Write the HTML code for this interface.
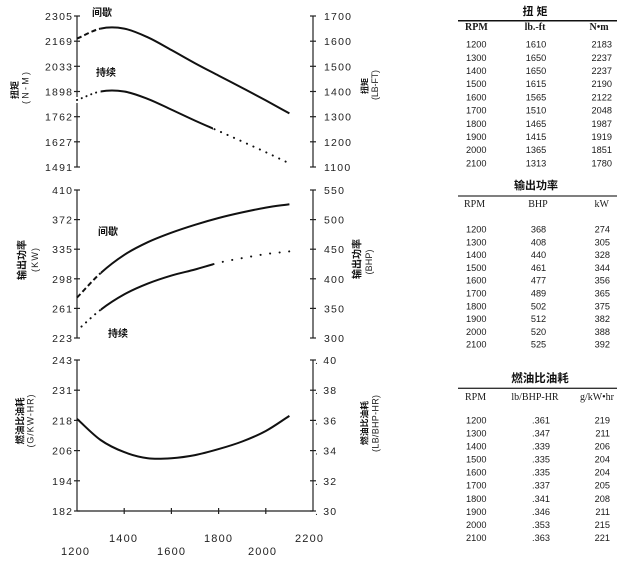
<!DOCTYPE html>
<html>
<head>
<meta charset="utf-8">
<style>
html,body{margin:0;padding:0;background:#fff;}
svg{display:block;}
.tk{font-family:"Liberation Sans",sans-serif;font-size:10.5px;fill:#222;letter-spacing:1.2px;}
.xl{font-family:"Liberation Sans",sans-serif;font-size:11px;fill:#222;letter-spacing:1.2px;}
.cj{font-family:"Liberation Sans","Noto Sans CJK SC",sans-serif;fill:#111;font-weight:bold;}
.lt{font-family:"Liberation Sans",sans-serif;font-size:9px;fill:#222;}
.tn{font-family:"Liberation Sans",sans-serif;font-size:9.2px;fill:#1a1a1a;}
.th{font-family:"Liberation Serif",serif;font-size:10px;fill:#1a1a1a;}
.ax{stroke:#222;stroke-width:1.2;fill:none;}
.cv{stroke:#111;stroke-width:2;fill:none;}
</style>
</head>
<body>
<svg width="624" height="561" viewBox="0 0 624 561" xmlns="http://www.w3.org/2000/svg">
<defs>
<clipPath id="cL"><rect x="0" y="0" width="100.6" height="561"/></clipPath>
<clipPath id="cR"><rect x="100.6" y="0" width="300" height="561"/></clipPath>
<clipPath id="cM"><rect x="100.6" y="0" width="112.4" height="561"/></clipPath>
<clipPath id="cE"><rect x="213" y="0" width="200" height="561"/></clipPath>
<clipPath id="cL2"><rect x="80" y="0" width="20.6" height="561"/></clipPath>
</defs>

<!-- ===== TOP CHART (Torque) ===== -->
<line class="ax" x1="77" y1="16" x2="77" y2="97"/>
<line class="ax" x1="77" y1="103" x2="77" y2="167"/>
<line class="ax" x1="313" y1="16" x2="313" y2="167"/>
<g class="ax">
<line x1="74" y1="16" x2="80" y2="16"/><line x1="74" y1="41.2" x2="80" y2="41.2"/><line x1="74" y1="66.3" x2="80" y2="66.3"/><line x1="74" y1="91.5" x2="80" y2="91.5"/><line x1="74" y1="116.7" x2="80" y2="116.7"/><line x1="74" y1="141.8" x2="80" y2="141.8"/><line x1="74" y1="167" x2="80" y2="167"/>
<line x1="310" y1="16" x2="316" y2="16"/><line x1="310" y1="41.2" x2="316" y2="41.2"/><line x1="310" y1="66.3" x2="316" y2="66.3"/><line x1="310" y1="91.5" x2="316" y2="91.5"/><line x1="310" y1="116.7" x2="316" y2="116.7"/><line x1="310" y1="141.8" x2="316" y2="141.8"/><line x1="310" y1="167" x2="316" y2="167"/>
</g>
<g class="tk" text-anchor="end">
<text x="73.2" y="20">2305</text><text x="73.2" y="45.2">2169</text><text x="73.2" y="70.3">2033</text><text x="73.2" y="95.5">1898</text><text x="73.2" y="120.7">1762</text><text x="73.2" y="145.8">1627</text><text x="73.2" y="171">1491</text>
</g>
<g class="tk">
<text x="324" y="20">1700</text><text x="324" y="45.2">1600</text><text x="324" y="70.3">1500</text><text x="324" y="95.5">1400</text><text x="324" y="120.7">1300</text><text x="324" y="145.8">1200</text><text x="324" y="171">1100</text>
</g>
<!-- axis titles -->
<text class="cj" font-size="9" transform="rotate(-90 15 90)" x="15" y="90" text-anchor="middle" dominant-baseline="central">扭矩</text>
<text class="lt" transform="rotate(-90 25.5 88)" x="25.5" y="88" text-anchor="middle" dominant-baseline="central" textLength="32" lengthAdjust="spacing">(N-M)</text>
<text class="cj" font-size="8" transform="rotate(-90 365 86)" x="365" y="86" text-anchor="middle" dominant-baseline="central">扭矩</text>
<text class="lt" transform="rotate(-90 375 85)" x="375" y="85" text-anchor="middle" dominant-baseline="central" textLength="30" lengthAdjust="spacing">(LB-FT)</text>
<text class="cj" font-size="10" x="102" y="16" text-anchor="middle">间歇</text>
<text class="cj" font-size="10" x="106" y="76" text-anchor="middle">持续</text>
<!-- intermittent torque -->
<path d="M77,38.6 C84.87,35.27 92.73,30.27 100.6,28.6 C108.47,26.93 116.33,27.15 124.2,28.6 C132.07,30.05 139.93,33.73 147.8,37.3 C155.67,40.87 163.53,45.68 171.4,50 C179.27,54.32 187.13,58.93 195,63.2 C202.87,67.47 210.73,71.48 218.6,75.6 C226.47,79.72 234.33,83.77 242.2,87.9 C250.07,92.03 257.93,96.15 265.8,100.4 C273.67,104.65 281.53,109.07 289.4,113.4" class="cv" clip-path="url(#cR)"/>
<path d="M77,38.6 C84.87,35.27 92.73,30.27 100.6,28.6 C108.47,26.93 116.33,27.15 124.2,28.6" class="cv" clip-path="url(#cL)" stroke-dasharray="5 3"/>
<!-- continuous torque -->
<path d="M77,100 C84.87,97.17 92.73,92.92 100.6,91.5 C108.47,90.08 116.33,90.27 124.2,91.5 C132.07,92.73 139.93,95.88 147.8,98.9 C155.67,101.92 163.53,105.98 171.4,109.6 C179.27,113.22 187.13,117.03 195,120.6 C202.87,124.17 210.73,127.52 218.6,131 C226.47,134.48 234.33,137.97 242.2,141.5 C250.07,145.03 257.93,148.55 265.8,152.2 C273.67,155.85 281.53,159.67 289.4,163.4" class="cv" clip-path="url(#cM)"/>
<path d="M77,100 C84.87,97.17 92.73,92.92 100.6,91.5" class="cv" clip-path="url(#cL)" stroke-dasharray="0.1 5" stroke-linecap="round"/>
<path d="M195,120.6 C202.87,124.17 210.73,127.52 218.6,131 C226.47,134.48 234.33,137.97 242.2,141.5 C250.07,145.03 257.93,148.55 265.8,152.2 C273.67,155.85 281.53,159.67 289.4,163.4" class="cv" clip-path="url(#cE)" stroke-dasharray="0.1 7" stroke-linecap="round"/>

<!-- ===== MIDDLE CHART (Power) ===== -->
<line class="ax" x1="77" y1="190" x2="77" y2="338"/>
<line class="ax" x1="313" y1="190" x2="313" y2="338"/>
<g class="ax">
<line x1="74" y1="190" x2="80" y2="190"/><line x1="74" y1="219.6" x2="80" y2="219.6"/><line x1="74" y1="249.2" x2="80" y2="249.2"/><line x1="74" y1="278.8" x2="80" y2="278.8"/><line x1="74" y1="308.4" x2="80" y2="308.4"/><line x1="74" y1="338" x2="80" y2="338"/>
<line x1="310" y1="190" x2="316" y2="190"/><line x1="310" y1="219.6" x2="316" y2="219.6"/><line x1="310" y1="249.2" x2="316" y2="249.2"/><line x1="310" y1="278.8" x2="316" y2="278.8"/><line x1="310" y1="308.4" x2="316" y2="308.4"/><line x1="310" y1="338" x2="316" y2="338"/>
</g>
<g class="tk" text-anchor="end">
<text x="73.2" y="194">410</text><text x="73.2" y="223.6">372</text><text x="73.2" y="253.2">335</text><text x="73.2" y="282.8">298</text><text x="73.2" y="312.4">261</text><text x="73.2" y="342">223</text>
</g>
<g class="tk">
<text x="324" y="194">550</text><text x="324" y="223.6">500</text><text x="324" y="253.2">450</text><text x="324" y="282.8">400</text><text x="324" y="312.4">350</text><text x="324" y="342">300</text>
</g>
<text class="cj" font-size="10" transform="rotate(-90 23 260)" x="23" y="260" text-anchor="middle" dominant-baseline="central">输出功率</text>
<text class="lt" transform="rotate(-90 35 260)" x="35" y="260" text-anchor="middle" dominant-baseline="central" textLength="24" lengthAdjust="spacing">(KW)</text>
<text class="cj" font-size="10" transform="rotate(-90 358 259)" x="358" y="259" text-anchor="middle" dominant-baseline="central">输出功率</text>
<text class="lt" transform="rotate(-90 369 262)" x="369" y="262" text-anchor="middle" dominant-baseline="central" textLength="25" lengthAdjust="spacing">(BHP)</text>
<text class="cj" font-size="10" x="108" y="235" text-anchor="middle">间歇</text>
<text class="cj" font-size="10" x="118" y="337" text-anchor="middle">持续</text>
<!-- intermittent power -->
<path d="M77,297.6 C84.87,289.43 92.73,280.22 100.6,273.1 C108.47,265.98 116.33,260.05 124.2,254.9 C132.07,249.75 139.93,245.9 147.8,242.2 C155.67,238.5 163.53,235.6 171.4,232.7 C179.27,229.8 187.13,227.25 195,224.8 C202.87,222.35 210.73,220.07 218.6,218 C226.47,215.93 234.33,214.13 242.2,212.4 C250.07,210.67 257.93,208.97 265.8,207.6 C273.67,206.23 281.53,205.33 289.4,204.2" class="cv" clip-path="url(#cR)"/>
<path d="M77,297.6 C84.87,289.43 92.73,280.22 100.6,273.1" class="cv" clip-path="url(#cL)" stroke-dasharray="5 3"/>
<!-- continuous power -->
<path d="M77,330.6 C84.87,323.67 92.73,315.83 100.6,309.8 C108.47,303.77 116.33,298.77 124.2,294.4 C132.07,290.03 139.93,286.73 147.8,283.6 C155.67,280.47 163.53,277.95 171.4,275.6 C179.27,273.25 187.13,271.63 195,269.5 C202.87,267.37 210.73,264.7 218.6,262.8 C226.47,260.9 234.33,259.55 242.2,258.1 C250.07,256.65 257.93,255.22 265.8,254.1 C273.67,252.98 281.53,252.3 289.4,251.4" class="cv" clip-path="url(#cM)"/>
<path d="M77,330.6 C84.87,323.67 92.73,315.83 100.6,309.8" class="cv" clip-path="url(#cL2)" stroke-dasharray="0.1 6" stroke-linecap="round"/>
<path d="M195,269.5 C202.87,267.37 210.73,264.7 218.6,262.8 C226.47,260.9 234.33,259.55 242.2,258.1 C250.07,256.65 257.93,255.22 265.8,254.1 C273.67,252.98 281.53,252.3 289.4,251.4" class="cv" clip-path="url(#cE)" stroke-dasharray="0.1 9.5" stroke-linecap="round"/>

<!-- ===== BOTTOM CHART (Fuel) ===== -->
<line class="ax" x1="77" y1="360" x2="77" y2="511"/>
<line class="ax" x1="313" y1="360" x2="313" y2="511"/>
<line class="ax" x1="77" y1="511" x2="313" y2="511"/>
<g class="ax">
<line x1="74" y1="360" x2="80" y2="360"/><line x1="74" y1="390.2" x2="80" y2="390.2"/><line x1="74" y1="420.4" x2="80" y2="420.4"/><line x1="74" y1="450.6" x2="80" y2="450.6"/><line x1="74" y1="480.8" x2="80" y2="480.8"/><line x1="74" y1="511" x2="80" y2="511"/>
<line x1="310" y1="360" x2="316" y2="360"/><line x1="310" y1="390.2" x2="316" y2="390.2"/><line x1="310" y1="420.4" x2="316" y2="420.4"/><line x1="310" y1="450.6" x2="316" y2="450.6"/><line x1="310" y1="480.8" x2="316" y2="480.8"/><line x1="310" y1="511" x2="316" y2="511"/>
<line x1="124.2" y1="508" x2="124.2" y2="514"/><line x1="171.4" y1="508" x2="171.4" y2="514"/><line x1="218.6" y1="508" x2="218.6" y2="514"/><line x1="265.8" y1="508" x2="265.8" y2="514"/>
</g>
<g class="tk" text-anchor="end">
<text x="73.2" y="364">243</text><text x="73.2" y="394.2">231</text><text x="73.2" y="424.4">218</text><text x="73.2" y="454.6">206</text><text x="73.2" y="484.8">194</text><text x="73.2" y="515">182</text>
</g>
<g class="tk">
<text x="315" y="364">. 40</text><text x="315" y="394.2">. 38</text><text x="315" y="424.4">. 36</text><text x="315" y="454.6">. 34</text><text x="315" y="484.8">. 32</text><text x="315" y="515">. 30</text>
</g>
<text class="cj" font-size="9.4" transform="rotate(-90 20 421)" x="20" y="421" text-anchor="middle" dominant-baseline="central">燃油比油耗</text>
<text class="lt" transform="rotate(-90 30.5 421)" x="30.5" y="421" text-anchor="middle" dominant-baseline="central" textLength="53" lengthAdjust="spacing">(G/KW-HR)</text>
<text class="cj" font-size="8.8" transform="rotate(-90 364.5 423)" x="364.5" y="423" text-anchor="middle" dominant-baseline="central">燃油比油耗</text>
<text class="lt" transform="rotate(-90 375.5 423.5)" x="375.5" y="423.5" text-anchor="middle" dominant-baseline="central" textLength="57" lengthAdjust="spacing">(LB/BHP-HR)</text>
<path d="M77,418.9 C84.87,425.93 92.73,434.47 100.6,440 C108.47,445.53 116.33,449.07 124.2,452.1 C132.07,455.13 139.93,457.18 147.8,458.2 C155.67,459.22 163.53,458.72 171.4,458.2 C179.27,457.68 187.13,456.62 195,455.1 C202.87,453.58 210.73,451.37 218.6,449.1 C226.47,446.83 234.33,444.52 242.2,441.5 C250.07,438.48 257.93,435.27 265.8,431 C273.67,426.73 281.53,420.93 289.4,415.9" class="cv"/>

<!-- X labels -->
<g class="xl" text-anchor="middle">
<text x="123.6" y="542">1400</text><text x="218.6" y="542">1800</text><text x="309.6" y="542">2200</text>
<text x="75.6" y="555">1200</text><text x="171.6" y="555">1600</text><text x="262.6" y="555">2000</text>
</g>

<!-- ===== TABLE 1 ===== -->
<text class="cj" font-size="11" x="535" y="15" text-anchor="middle">扭 矩</text>
<line x1="458" y1="20.7" x2="617" y2="20.7" stroke="#111" stroke-width="1.5"/>
<g class="th" font-weight="bold" font-size="9.5">
<text x="465" y="30">RPM</text>
<text x="535" y="30" text-anchor="middle">lb.-ft</text>
<text x="599" y="30" text-anchor="middle">N•m</text>
</g>
<g class="tn">
<text x="466" y="47.6">1200</text><text x="466" y="60.8">1300</text><text x="466" y="74">1400</text><text x="466" y="87.2">1500</text><text x="466" y="100.4">1600</text><text x="466" y="113.6">1700</text><text x="466" y="126.8">1800</text><text x="466" y="140">1900</text><text x="466" y="153.2">2000</text><text x="466" y="166.4">2100</text>
</g>
<g class="tn" text-anchor="middle">
<text x="536" y="47.6">1610</text><text x="536" y="60.8">1650</text><text x="536" y="74">1650</text><text x="536" y="87.2">1615</text><text x="536" y="100.4">1565</text><text x="536" y="113.6">1510</text><text x="536" y="126.8">1465</text><text x="536" y="140">1415</text><text x="536" y="153.2">1365</text><text x="536" y="166.4">1313</text>
</g>
<g class="tn" text-anchor="end">
<text x="612" y="47.6">2183</text><text x="612" y="60.8">2237</text><text x="612" y="74">2237</text><text x="612" y="87.2">2190</text><text x="612" y="100.4">2122</text><text x="612" y="113.6">2048</text><text x="612" y="126.8">1987</text><text x="612" y="140">1919</text><text x="612" y="153.2">1851</text><text x="612" y="166.4">1780</text>
</g>

<!-- ===== TABLE 2 ===== -->
<text class="cj" font-size="11" x="536" y="189" text-anchor="middle">输出功率</text>
<line x1="458" y1="196" x2="617" y2="196" stroke="#333" stroke-width="1.3"/>
<g class="th">
<text x="464" y="207">RPM</text>
<text x="538" y="207" text-anchor="middle">BHP</text>
<text x="609" y="207" text-anchor="end">kW</text>
</g>
<g class="tn">
<text x="466" y="232.6">1200</text><text x="466" y="245.4">1300</text><text x="466" y="258.2">1400</text><text x="466" y="270.9">1500</text><text x="466" y="283.7">1600</text><text x="466" y="296.5">1700</text><text x="466" y="309.3">1800</text><text x="466" y="322.1">1900</text><text x="466" y="334.8">2000</text><text x="466" y="347.6">2100</text>
</g>
<g class="tn" text-anchor="middle">
<text x="538.5" y="232.6">368</text><text x="538.5" y="245.4">408</text><text x="538.5" y="258.2">440</text><text x="538.5" y="270.9">461</text><text x="538.5" y="283.7">477</text><text x="538.5" y="296.5">489</text><text x="538.5" y="309.3">502</text><text x="538.5" y="322.1">512</text><text x="538.5" y="334.8">520</text><text x="538.5" y="347.6">525</text>
</g>
<g class="tn" text-anchor="end">
<text x="610" y="232.6">274</text><text x="610" y="245.4">305</text><text x="610" y="258.2">328</text><text x="610" y="270.9">344</text><text x="610" y="283.7">356</text><text x="610" y="296.5">365</text><text x="610" y="309.3">375</text><text x="610" y="322.1">382</text><text x="610" y="334.8">388</text><text x="610" y="347.6">392</text>
</g>

<!-- ===== TABLE 3 ===== -->
<text class="cj" font-size="11.5" x="540" y="382" text-anchor="middle">燃油比油耗</text>
<line x1="458" y1="388.3" x2="617" y2="388.3" stroke="#333" stroke-width="1.3"/>
<g class="th">
<text x="465" y="400">RPM</text>
<text x="535" y="400" text-anchor="middle">lb/BHP-HR</text>
<text x="597" y="400" text-anchor="middle">g/kW•hr</text>
</g>
<g class="tn">
<text x="466" y="423.3">1200</text><text x="466" y="436.4">1300</text><text x="466" y="449.5">1400</text><text x="466" y="462.5">1500</text><text x="466" y="475.6">1600</text><text x="466" y="488.7">1700</text><text x="466" y="501.8">1800</text><text x="466" y="514.9">1900</text><text x="466" y="528">2000</text><text x="466" y="541">2100</text>
</g>
<g class="tn" text-anchor="middle">
<text x="541" y="423.3">.361</text><text x="541" y="436.4">.347</text><text x="541" y="449.5">.339</text><text x="541" y="462.5">.335</text><text x="541" y="475.6">.335</text><text x="541" y="488.7">.337</text><text x="541" y="501.8">.341</text><text x="541" y="514.9">.346</text><text x="541" y="528">.353</text><text x="541" y="541">.363</text>
</g>
<g class="tn" text-anchor="end">
<text x="610" y="423.3">219</text><text x="610" y="436.4">211</text><text x="610" y="449.5">206</text><text x="610" y="462.5">204</text><text x="610" y="475.6">204</text><text x="610" y="488.7">205</text><text x="610" y="501.8">208</text><text x="610" y="514.9">211</text><text x="610" y="528">215</text><text x="610" y="541">221</text>
</g>
</svg>
</body>
</html>
